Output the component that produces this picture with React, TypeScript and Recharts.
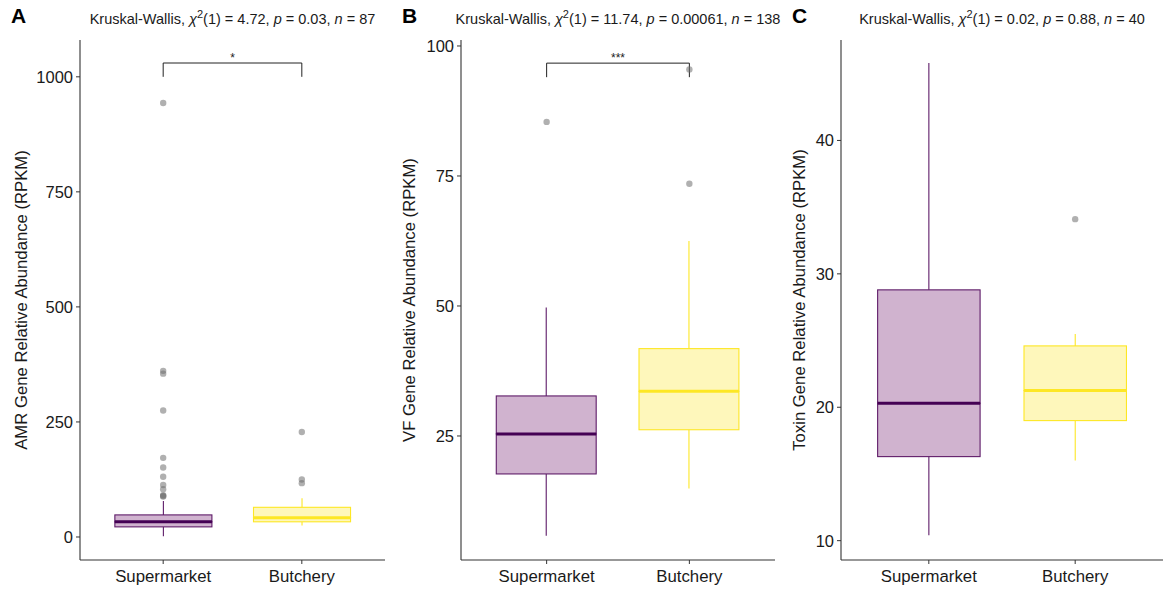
import { ComposedChart, Bar, Scatter, XAxis, YAxis, ReferenceLine } from "recharts"

const groups = ["Supermarket", "Butchery"]

// five-number summaries: [min, q1, median, q3, max]
const amrSupermarket = [1.5, 22, 33, 48, 78]
const amrButchery = [25, 33, 42, 64.5, 84]
const amrOutSupermarket = [943, 361, 355, 275, 172, 151, 131, 113, 104, 91, 89, 88]
const amrOutButchery = [228, 125, 117]
const amrTicks = [0, 250, 500, 750, 1000]

const vfSupermarket = [5.8, 17.7, 25.4, 32.7, 49.7]
const vfButchery = [14.9, 26.2, 33.6, 41.8, 62.5]
const vfOutSupermarket = [85.4]
const vfOutButchery = [95.5, 73.5]
const vfTicks = [25, 50, 75, 100]

const toxinSupermarket = [10.4, 16.3, 20.3, 28.8, 45.8]
const toxinButchery = [16.0, 19.0, 21.25, 24.6, 25.5]
const toxinOutSupermarket: number[] = []
const toxinOutButchery = [34.1]
const toxinTicks = [10, 20, 30, 40]

const STYLE: Record<string, { line: string; edge: string; fill: string; whisker: string }> = {
  Supermarket: { line: "#440154", edge: "#5e1b68", fill: "#d0b3cf", whisker: "#5e1b68" },
  Butchery: { line: "#fde725", edge: "#fde725", fill: "#fef7bb", whisker: "#fde725" },
}

const FONT = '"Liberation Sans", Arial, sans-serif'
const AXIS = "#333333"

function boxRows(stats: number[][]) {
  return groups.map((name, i) => {
    const [min, q1, med, q3, max] = stats[i]
    return {
      name,
      base: min,
      lowWhisker: q1 - min,
      lowBox: med - q1,
      highBox: q3 - med,
      highWhisker: max - q3,
    }
  })
}

function outlierRows(lists: number[][]) {
  return groups.flatMap((name, i) => lists[i].map((value) => ({ name, value })))
}

const Whisker = (p: any) => {
  const s = STYLE[p.payload.name]
  const cx = p.x + p.width / 2
  return <line x1={cx} x2={cx} y1={p.y} y2={p.y + p.height} stroke={s.whisker} strokeWidth={1.1} />
}

const LowBox = (p: any) => {
  const s = STYLE[p.payload.name]
  return <rect x={p.x} y={p.y} width={p.width} height={p.height} fill={s.fill} stroke={s.edge} strokeWidth={1.1} />
}

const HighBox = (p: any) => {
  const s = STYLE[p.payload.name]
  const my = p.y + p.height
  return (
    <g>
      <rect x={p.x} y={p.y} width={p.width} height={p.height} fill={s.fill} stroke={s.edge} strokeWidth={1.1} />
      <line x1={p.x} x2={p.x + p.width} y1={my} y2={my} stroke={s.line} strokeWidth={3} />
    </g>
  )
}

const Dot = (p: any) => (
  <circle cx={p.cx} cy={p.cy} r={3.2} fill="#707070" fillOpacity={0.55} />
)

type PanelProps = {
  left: number
  width: number
  axisWidth: number
  right: number
  letter: string
  letterX: number
  labelX: number
  stats: number[][]
  outliers: number[][]
  domain: [number, number]
  ticks: number[]
  yLabel: string
  chi: string
  p: string
  n: string
  bracket?: { low: number; high: number; mark: string }
}

function BoxPanel(props: PanelProps) {
  const { left, width, axisWidth, right, stats, outliers, domain, ticks, bracket } = props
  const plotW = width - axisWidth - right
  const pad = plotW / 22
  const barSize = (0.7 * plotW) / 2.2
  const rows = boxRows(stats)
  const points = outlierRows(outliers)
  const plotLeft = left + axisWidth
  return (
    <>
      <div style={{ position: "absolute", left: props.letterX, top: 4, fontSize: 21, fontWeight: "bold" }}>
        {props.letter}
      </div>
      <div
        style={{
          position: "absolute",
          left: plotLeft + plotW / 2,
          top: 8,
          transform: "translateX(-50%)",
          whiteSpace: "nowrap",
          fontSize: 14.5,
          color: "#1a1a1a",
        }}
      >
        Kruskal-Wallis, <i>χ</i>
        <sup style={{ fontSize: 11 }}>2</sup>(1) = {props.chi}, <i>p</i> = {props.p}, <i>n</i> = {props.n}
      </div>
      <div
        style={{
          position: "absolute",
          left: props.labelX,
          top: 300,
          transform: "translate(-50%, -50%) rotate(-90deg)",
          whiteSpace: "nowrap",
          fontSize: 16.7,
          color: "#1a1a1a",
        }}
      >
        {props.yLabel}
      </div>
      <div style={{ position: "absolute", left, top: 0 }}>
        <ComposedChart
          width={width}
          height={590}
          data={rows}
          margin={{ top: 40, right, bottom: 0, left: 0 }}
          barSize={barSize}
        >
          <XAxis
            dataKey="name"
            allowDuplicatedCategory={false}
            padding={{ left: pad, right: pad }}
            height={30}
            tickSize={4}
            tickMargin={6}
            axisLine={{ stroke: AXIS, strokeWidth: 1.1 }}
            tickLine={{ stroke: AXIS }}
            tick={{ fill: "#1a1a1a", fontSize: 16.8 }}
          />
          <YAxis
            width={axisWidth}
            domain={domain}
            allowDataOverflow
            ticks={ticks}
            tickSize={4}
            tickMargin={3}
            axisLine={{ stroke: AXIS, strokeWidth: 1.1 }}
            tickLine={{ stroke: AXIS }}
            tick={{ fill: "#1a1a1a", fontSize: 16.5 }}
          />
          <Bar dataKey="base" stackId="box" fill="none" isAnimationActive={false} />
          <Bar dataKey="lowWhisker" stackId="box" shape={Whisker} isAnimationActive={false} />
          <Bar dataKey="lowBox" stackId="box" shape={LowBox} isAnimationActive={false} />
          <Bar dataKey="highBox" stackId="box" shape={HighBox} isAnimationActive={false} />
          <Bar dataKey="highWhisker" stackId="box" shape={Whisker} isAnimationActive={false} />
          <Scatter data={points} dataKey="value" shape={Dot} isAnimationActive={false} />
          {bracket && (
            <ReferenceLine
              segment={[
                { x: groups[0], y: bracket.high },
                { x: groups[1], y: bracket.high },
              ]}
              stroke="#222"
              strokeWidth={1}
              label={{ value: bracket.mark, position: "top", offset: 1, fontSize: 12, fill: "#222" }}
            />
          )}
          {bracket && (
            <ReferenceLine
              segment={[
                { x: groups[0], y: bracket.low },
                { x: groups[0], y: bracket.high },
              ]}
              stroke="#222"
              strokeWidth={1}
            />
          )}
          {bracket && (
            <ReferenceLine
              segment={[
                { x: groups[1], y: bracket.low },
                { x: groups[1], y: bracket.high },
              ]}
              stroke="#222"
              strokeWidth={1}
            />
          )}
        </ComposedChart>
      </div>
    </>
  )
}

export default function App() {
  return (
    <div
      style={{
        position: "absolute",
        left: 0,
        top: 0,
        width: 1164,
        height: 590,
        background: "#fff",
        fontFamily: FONT,
        overflow: "hidden",
      }}
    >
      <BoxPanel
        left={0}
        width={390}
        axisWidth={80}
        right={5}
        letter="A"
        letterX={11}
        labelX={22}
        stats={[amrSupermarket, amrButchery]}
        outliers={[amrOutSupermarket, amrOutButchery]}
        domain={[-50, 1080]}
        ticks={amrTicks}
        yLabel="AMR Gene Relative Abundance (RPKM)"
        chi="4.72"
        p="0.03"
        n="87"
        bracket={{ low: 1000, high: 1030, mark: "*" }}
      />
      <BoxPanel
        left={390}
        width={390}
        axisWidth={71}
        right={5}
        letter="B"
        letterX={402}
        labelX={410}
        stats={[vfSupermarket, vfButchery]}
        outliers={[vfOutSupermarket, vfOutButchery]}
        domain={[1.15, 101.15]}
        ticks={vfTicks}
        yLabel="VF Gene Relative Abundance (RPKM)"
        chi="11.74"
        p="0.00061"
        n="138"
        bracket={{ low: 94.0, high: 96.7, mark: "***" }}
      />
      <BoxPanel
        left={780}
        width={384}
        axisWidth={61}
        right={1}
        letter="C"
        letterX={792}
        labelX={800}
        stats={[toxinSupermarket, toxinButchery]}
        outliers={[toxinOutSupermarket, toxinOutButchery]}
        domain={[8.55, 47.53]}
        ticks={toxinTicks}
        yLabel="Toxin Gene Relative Abundance (RPKM)"
        chi="0.02"
        p="0.88"
        n="40"
      />
    </div>
  )
}
